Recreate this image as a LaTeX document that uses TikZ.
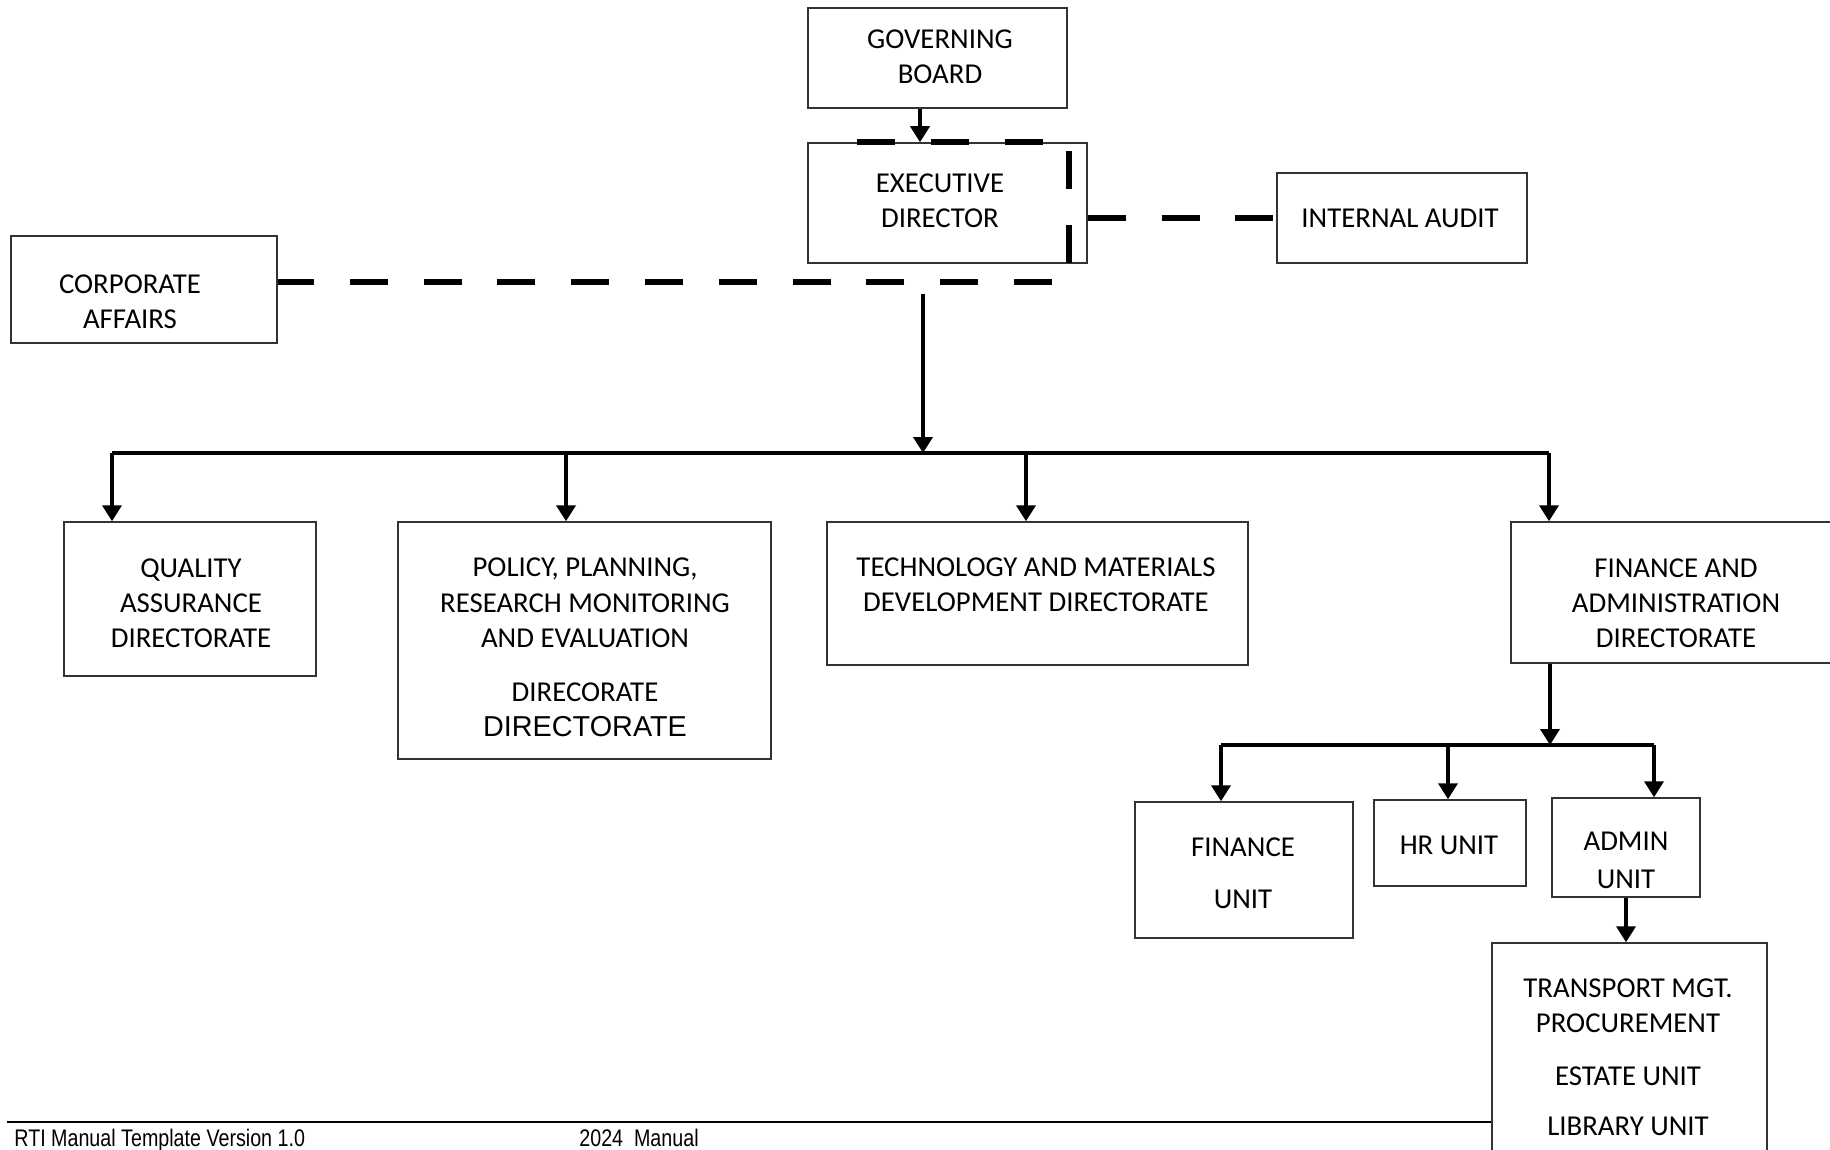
\documentclass[tikz,border=0pt]{standalone}
\usepackage{fontspec}
\setmainfont{Carlito}
\newfontfamily\arialfont{Liberation Sans}
\newfontfamily\narrowfont[FakeStretch=0.82]{Liberation Sans}
\usetikzlibrary{arrows.meta}

\tikzset{
    box/.style={draw=black!80, line width=0.75pt, fill=white, inner sep=0pt},
    lbl/.style={align=center, inner sep=0pt, font=\fontsize{14.4}{17.6}\selectfont},
    conn/.style={line width=1.9pt},
    arrowline/.style={conn, -{Triangle[width=9.5pt,length=8pt]}},
    dashline/.style={line width=2.8pt, dash pattern=on 19pt off 17.9pt},
    foot/.style={anchor=base west, inner sep=0pt, font=\narrowfont\fontsize{12}{14}\selectfont}
}

\begin{document}
\begin{tikzpicture}[x=0.5pt,y=0.5pt,yscale=-1]
    \useasboundingbox (0,0) rectangle (1830,1150);

    %Footer rule
    \draw [line width=1.3pt] (7,1122) -- (1492,1122) ;

    %Shape: Rectangle [top level]
    \node [box, minimum width=129.5pt, minimum height=50pt] (gb) at (937.5,58) {};
    \node [box, minimum width=139.5pt, minimum height=60pt] (ed) at (947.5,203) {};
    \node [box, minimum width=125pt, minimum height=45pt] (ia) at (1402,218) {};
    \node [box, minimum width=133pt, minimum height=53.5pt] (ca) at (144,289.5) {};
    %Shape: Rectangle [directorates]
    \node [box, minimum width=126pt, minimum height=77pt] (qa) at (190,599) {};
    \node [box, minimum width=186.5pt, minimum height=118.5pt] (ppr) at (584.5,640.5) {};
    \node [box, minimum width=210.5pt, minimum height=71.5pt] (tmd) at (1037.5,593.5) {};
    \node [box, minimum width=165pt, minimum height=70.5pt] (fa) at (1676,592.5) {};
    %Shape: Rectangle [units]
    \node [box, minimum width=109pt, minimum height=68pt] (fin) at (1244,870) {};
    \node [box, minimum width=76pt, minimum height=43pt] (hr) at (1450,843) {};
    \node [box, minimum width=74pt, minimum height=49.5pt] (adm) at (1626,847.5) {};
    \node [box, minimum width=137.5pt, minimum height=153.5pt] (tr) at (1629.5,1096.5) {};

    % Text Node
    \node [lbl] (gbt) at (940,57) {GOVERNING\\BOARD};
    % Text Node
    \node [lbl] (edt) at (940,201) {EXECUTIVE\\DIRECTOR};
    % Text Node
    \node [lbl] (iat) at (1400,218) {INTERNAL AUDIT};
    % Text Node
    \node [lbl] (cat) at (130,301.5) {CORPORATE\\AFFAIRS};
    % Text Node
    \node [lbl] (qat) at (191,603) {QUALITY\\ASSURANCE\\DIRECTORATE};
    % Text Node
    \node [lbl] (pprt) at (585,647.5) {POLICY, PLANNING,\\RESEARCH MONITORING\\AND EVALUATION\\[9.5pt]DIRECORATE\\{\arialfont DIRECTORATE}};
    % Text Node
    \node [lbl] (tmdt) at (1036,584.5) {TECHNOLOGY AND MATERIALS\\DEVELOPMENT DIRECTORATE};
    % Text Node
    \node [lbl] (fat) at (1676,603) {FINANCE AND\\ADMINISTRATION\\DIRECTORATE};
    % Text Node
    \node [lbl] (fint) at (1243,873) {FINANCE\\[8.5pt]UNIT};
    % Text Node
    \node [lbl] (hrt) at (1449,845) {HR UNIT};
    % Text Node
    \node [lbl] (admt) at (1626,860) {ADMIN\\[1.5pt]UNIT};
    % Text Node
    \node [lbl] (trt) at (1628,1057) {TRANSPORT MGT.\\PROCUREMENT\\[9pt]ESTATE UNIT\\[7pt]LIBRARY UNIT};

    % Footer text
    \node [foot] (foot1) at (14,1146) {RTI Manual Template Version 1.0};
    \node [foot] (foot2) at (579,1146) {2024\ \ Manual};

    %Coordinates for the bus lines
    \coordinate (gbx) at (920,0);
    \coordinate (trunk) at (923,294);
    \coordinate (bus1) at (112,453);
    \coordinate (bus2) at (566,453);
    \coordinate (bus3) at (1026,453);
    \coordinate (bus4) at (1549,453);
    \coordinate (sub0) at (1550,745);
    \coordinate (sub1) at (1221,745);
    \coordinate (sub2) at (1448,745);
    \coordinate (sub3) at (1654,745);
    \coordinate (admx) at (1626,0);

    %Straight Lines
    \draw [arrowline] (gb.south -| gbx) -- (ed.north -| gbx) ;
    \draw [arrowline] (trunk) -- (trunk |- bus1) ;
    \draw [conn] (bus1) -- (bus4) ;
    \draw [arrowline] (bus1) -- (bus1 |- qa.north) ;
    \draw [arrowline] (bus2) -- (bus2 |- ppr.north) ;
    \draw [arrowline] (bus3) -- (bus3 |- tmd.north) ;
    \draw [arrowline] (bus4) -- (bus4 |- fa.north) ;
    %Straight Lines [finance and administration]
    \draw [arrowline] (sub0 |- fa.south) -- (sub0) ;
    \draw [conn] (sub1) -- (sub3) ;
    \draw [arrowline] (sub1) -- (sub1 |- fin.north) ;
    \draw [arrowline] (sub2) -- (sub2 |- hr.north) ;
    \draw [arrowline] (sub3) -- (sub3 |- adm.north) ;
    \draw [arrowline] (adm.south -| admx) -- (tr.north -| admx) ;

    %Dashed Lines
    \coordinate (dtop) at (857,142);
    \coordinate (dcorner) at (1069,142);
    \coordinate (dbot) at (1069,282);
    \draw [dashline] (dtop) -- (dcorner) -- (dbot) -- (ca.east |- dbot) ;
    \draw [dashline] (ed.east |- ia.west) -- (ia.west) ;

\end{tikzpicture}
\end{document}
